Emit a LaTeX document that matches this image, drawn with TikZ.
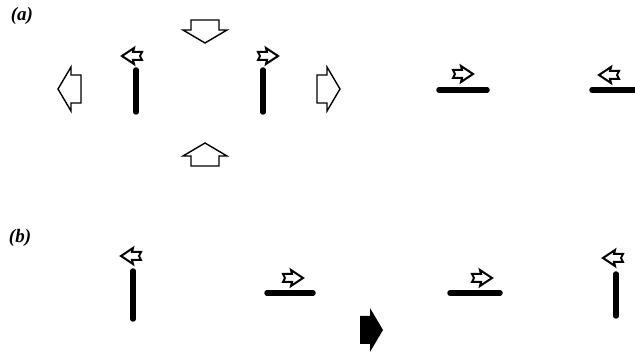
\documentclass[tikz,border=0pt]{standalone}
\usepackage{fontspec}
\setmainfont{Liberation Serif}

\tikzset{
  bigarrow/.pic={
    \path[pic actions] (0,0) -- (-13,22) -- (-13,14) -- (-23,14) -- (-23,-14)
      -- (-13,-14) -- (-13,-22) -- cycle;
  },
  smallarrow/.pic={
    \path[pic actions] (0,0) -- (-12,8) -- (-11,4) -- (-20,4) -- (-18,0)
      -- (-20,-4) -- (-11,-4) -- (-12,-8) -- cycle;
  },
  hollow/.style={draw, line width=1.4pt, line join=miter, fill=white},
  small/.style={draw, line width=2pt, line join=miter, fill=white},
  filled/.style={fill=black},
  bar/.style={line width=5.5pt, line cap=round},
  panel/.style={font=\fontsize{19}{22}\selectfont\bfseries\itshape}
}

\begin{document}
\begin{tikzpicture}[x=1pt, y=-1pt]
  \useasboundingbox (0,0) rectangle (635,355);
  \clip (0,0) rectangle (635,355);

  % panel labels
  \node[panel] (la) at (22,16) {(a)};
  \node[panel] (lb) at (20,238) {(b)};

  % ---- (a): four big hollow arrows round the pair ----
  \pic[hollow, rotate=-90] at (205,43)  {bigarrow};
  \pic[hollow, rotate=90]  at (205,143) {bigarrow};
  \pic[hollow, rotate=180] at (58,89)   {bigarrow};
  \pic[hollow]             at (340,89)  {bigarrow};

  % ---- bars ----
  \draw[bar] (136,70) -- (136,112);
  \draw[bar] (263,70) -- (263,112);
  \draw[bar] (439,90) -- (487,90);
  \draw[bar] (592,90) -- (640,90);

  \draw[bar] (133,271) -- (133,319);
  \draw[bar] (267,293) -- (313,293);
  \draw[bar] (450,293) -- (500,293);
  \draw[bar] (616,274) -- (616,316);

  % ---- small arrows: tip x / tip y / angle ----
  \foreach \tx/\ty/\ang in {
      122/56/180,
      278/56/0,
      473/74/0,
      599/75/180,
      121/256/180,
      303/278/0,
      492/278/0,
      603/258/180
  }{
    \pic[small, rotate=\ang] at (\tx,\ty) {smallarrow};
  }

  % ---- (b): big solid arrow ----
  \pic[filled] at (383,330) {bigarrow};

\end{tikzpicture}
\end{document}
